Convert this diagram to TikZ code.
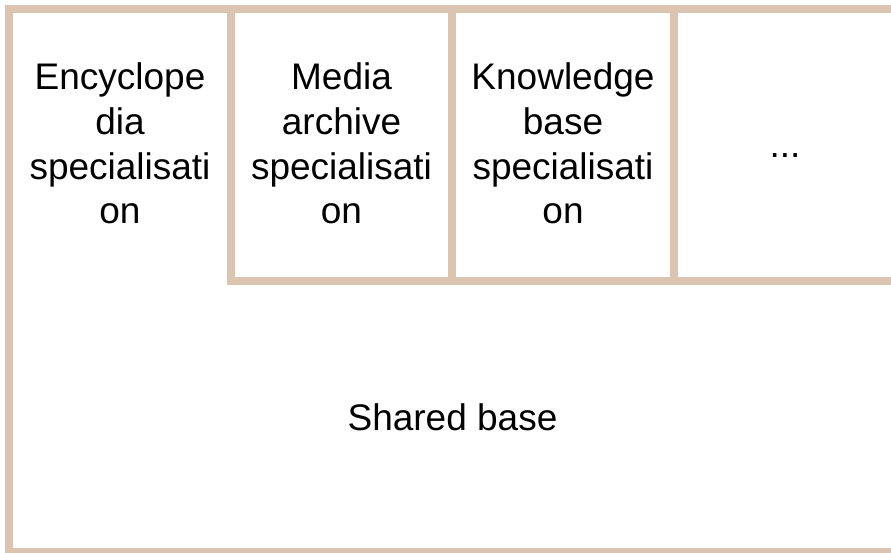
\documentclass[tikz,border=0pt]{standalone}
\usepackage{fontspec}
\setmainfont{Liberation Sans}
\definecolor{tan}{RGB}{219,197,177}
\begin{document}
\begin{tikzpicture}[x=1pt,y=-1pt,
  frame/.style={draw=tan,line width=8pt,inner sep=0pt,rectangle},
  lbl/.style={align=center,inner sep=0pt,font=\fontsize{37}{44.7}\selectfont}]
\useasboundingbox (0,0) rectangle (891,553);
\clip (0,0) rectangle (891,553);
\fill[white] (0,0) rectangle (891,553);
\node[frame,minimum width=887pt,minimum height=543pt] (base) at (452.5,280.5) {};
\node[frame,minimum width=221pt,minimum height=272pt] (med) at (341.5,145) {};
\node[frame,minimum width=222pt,minimum height=272pt] (kno) at (563,145) {};
\node[frame,minimum width=222pt,minimum height=272pt] (more) at (785,145) {};
\node[lbl] (enc) at (120,143.5) {Encyclope\\dia\\specialisati\\on};
\node[lbl] (medt) at (341.5,143.5) {Media\\archive\\specialisati\\on};
\node[lbl] (knot) at (563,143.5) {Knowledge\\base\\specialisati\\on};
\node[lbl,anchor=base] (moret) at (785,158) {...};
\node[lbl,anchor=base] (shared) at (452.5,430) {Shared base};
\end{tikzpicture}
\end{document}
